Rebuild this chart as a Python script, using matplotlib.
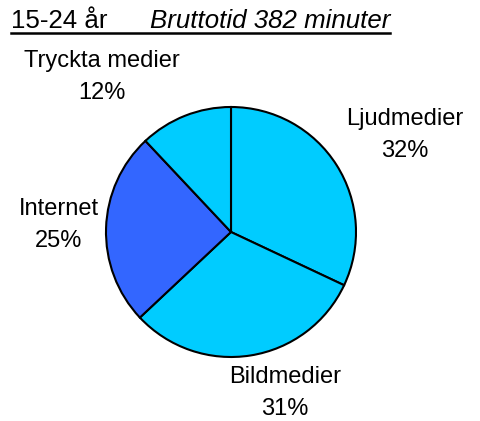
import matplotlib
matplotlib.use('Agg')
import matplotlib.pyplot as plt
from matplotlib.lines import Line2D

# data
categories = ['Ljudmedier', 'Bildmedier', 'Internet', 'Tryckta medier']
shares = [32, 31, 25, 12]
colors = ['#00CCFF', '#00CCFF', '#3366FF', '#00CCFF']
age_group = '15-24 år'
subtitle = 'Bruttotid 382 minuter'

W, H = 481, 421
plt.rcParams['font.family'] = ['Liberation Sans', 'DejaVu Sans']

fig = plt.figure(figsize=(W / 100, H / 100), dpi=100)
ax = fig.add_axes([0, 0, 1, 1])

# pie, pixel coordinates with y up
cx, cy, r = 231, H - 232, 125
ax.pie(shares, colors=colors, startangle=90, counterclock=False,
       center=(cx, cy), radius=r, frame=True,
       wedgeprops=dict(edgecolor='black', linewidth=1.5))
ax.set_xlim(0, W)
ax.set_ylim(0, H)
ax.axis('off')

# label anchors (pixels from top-left): name line, percent below
label_pos = [(405, 119), (285, 377), (59, 209), (102, 61)]
for name, val, (lx, ly) in zip(categories, shares, label_pos):
    ax.text(lx, H - ly, name, ha='center', va='center', fontsize=17)
    ax.text(lx, H - ly - 32, f'{val}%', ha='center', va='center', fontsize=17)

# title
t1 = fig.text(11 / W, 1 - 28 / H, age_group, fontsize=18.6, ha='left', va='baseline')
t2 = fig.text(150 / W, 1 - 28 / H, subtitle, fontsize=18.6, style='italic',
              ha='left', va='baseline')
fig.canvas.draw()
rend = fig.canvas.get_renderer()
x0 = t1.get_window_extent(rend).x0
x1 = t2.get_window_extent(rend).x1
fig.add_artist(Line2D([x0 / W, x1 / W], [1 - 32.5 / H, 1 - 32.5 / H],
                      color='black', linewidth=1.8))

plt.savefig('out.png', dpi=100)
